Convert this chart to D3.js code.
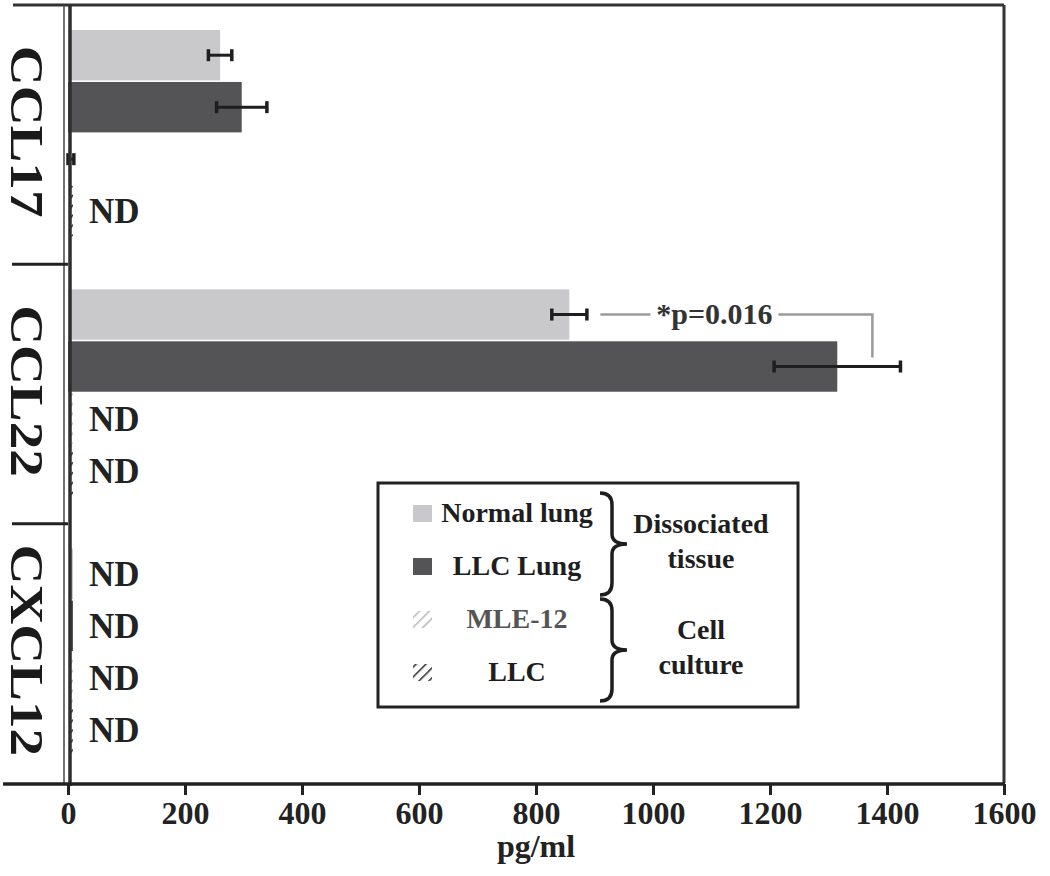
<!DOCTYPE html>
<html>
<head>
<meta charset="utf-8">
<script src="https://cdn.jsdelivr.net/npm/d3@7"></script>
<style>
  body { margin: 0; background: #fff; }
  text { font-family: "Liberation Serif", "Times New Roman", serif; font-weight: bold; }
</style>
</head>
<body>
<div class="chart"></div>
<script>
//Data
var groups = ["CCL17", "CCL22", "CXCL12"];
var seriesNames = ["Normal lung", "LLC Lung", "MLE-12", "LLC"];
var normalLung = [260, 857, null];
var llcLung = [297, 1315, null];
var mle12 = [5, null, null];
var llc = [null, null, null];
var normalLungErr = [20, 30, null];
var llcLungErr = [43, 108, null];
var mle12Err = [5, null, null];
var llcErr = [null, null, null];
var xTicks = [0, 200, 400, 600, 800, 1000, 1200, 1400, 1600];
var legendGroups = [["Dissociated", "tissue"], ["Cell", "culture"]];
var sigLabel = "*p=0.016";
var sigFrom = 910, sigTo = 1375, sigLabelAt = 1105;

var allValues = [normalLung, llcLung, mle12, llc];
var allErrors = [normalLungErr, llcLungErr, mle12Err, llcErr];

//Build rows for the bars
var rows = [];
groups.forEach(function(g, gi) {
    seriesNames.forEach(function(s, si) {
        rows.push({group: g, series: s, si: si, value: allValues[si][gi], err: allErrors[si][gi]});
    });
});

var svgWidth = 1050;
var svgHeight = 876;

var svg = d3.select(".chart")
    .append("svg")
    .attr("width", svgWidth)
    .attr("height", svgHeight);

//Scales
var xScale = d3.scaleLinear().domain([0, 1600]).range([68, 1004]);
var groupScale = d3.scaleBand().domain(groups).range([5, 783]);
var slotScale = d3.scaleBand().domain(seriesNames)
    .range([25, groupScale.bandwidth() - 28]).paddingInner(0.03);

function slotY(d) { return groupScale(d.group) + slotScale(d.series); }
function slotMid(d) { return slotY(d) + slotScale.bandwidth() / 2; }

//Fills
var defs = svg.append("defs");
function hatch(id, color) {
    var p = defs.append("pattern").attr("id", id)
        .attr("patternUnits", "userSpaceOnUse")
        .attr("width", 7).attr("height", 7)
        .attr("patternTransform", "rotate(45)");
    p.append("line").attr("x1", 0).attr("y1", 0).attr("x2", 0).attr("y2", 7)
        .attr("stroke", color).attr("stroke-width", 3);
}
hatch("hatchLight", "#b8b8b8");
hatch("hatchDark", "#2a2a2a");
var fills = ["#c9c9cb", "#545457", "url(#hatchLight)", "url(#hatchDark)"];

//Frame
svg.append("line").attr("x1", 13).attr("x2", 1004).attr("y1", 5).attr("y2", 5)
    .attr("stroke", "#333").attr("stroke-width", 3);
svg.append("line").attr("x1", 1004).attr("x2", 1004).attr("y1", 5).attr("y2", 783)
    .attr("stroke", "#333").attr("stroke-width", 3);

//Bars
svg.selectAll(".bar")
    .data(rows.filter(d => d.value != null))
    .enter()
    .append("rect")
    .attr("class", "bar")
    .attr("x", xScale(0))
    .attr("y", d => slotY(d))
    .attr("width", d => xScale(d.value) - xScale(0))
    .attr("height", slotScale.bandwidth())
    .attr("fill", d => fills[d.si]);

//Tiny marks at the axis for not detected cells
svg.selectAll(".ndmark")
    .data(rows.filter(d => d.value == null))
    .enter()
    .append("rect")
    .attr("x", xScale(0) + 1)
    .attr("y", d => slotY(d))
    .attr("width", 4)
    .attr("height", slotScale.bandwidth())
    .attr("fill", d => fills[d.si]);

//ND labels
svg.selectAll(".nd")
    .data(rows.filter(d => d.value == null))
    .enter()
    .append("text")
    .attr("x", xScale(0) + 21)
    .attr("y", d => slotMid(d))
    .attr("dy", "0.35em")
    .attr("font-size", "35px")
    .attr("fill", "#222")
    .text("ND");

//Error bars
var errRows = rows.filter(d => d.err != null);
var eb = svg.selectAll(".err").data(errRows).enter().append("g");
eb.append("line")
    .attr("x1", d => xScale(d.value - d.err))
    .attr("x2", d => xScale(d.value + d.err))
    .attr("y1", d => slotMid(d)).attr("y2", d => slotMid(d))
    .attr("stroke", "#1e1e1e").attr("stroke-width", 3);
[-1, 1].forEach(function(sgn) {
    eb.append("line")
        .attr("x1", d => xScale(d.value + sgn * d.err))
        .attr("x2", d => xScale(d.value + sgn * d.err))
        .attr("y1", d => slotMid(d) - 6).attr("y2", d => slotMid(d) + 6)
        .attr("stroke", "#1e1e1e").attr("stroke-width", 3.5);
});

//Significance bracket
var sigA = rows.find(d => d.group == "CCL22" && d.si == 0);
var sigB = rows.find(d => d.group == "CCL22" && d.si == 1);
svg.append("path")
    .attr("d", "M" + xScale(sigFrom) + "," + slotMid(sigA) +
        "H" + xScale(sigTo) + "V" + (slotMid(sigB) - 9))
    .attr("fill", "none").attr("stroke", "#9a9a9a").attr("stroke-width", 2.5);
var sigW = 128;
svg.append("rect")
    .attr("x", xScale(sigLabelAt) - sigW / 2).attr("y", slotMid(sigA) - 14)
    .attr("width", sigW).attr("height", 28).attr("fill", "#fff");
svg.append("text")
    .attr("x", xScale(sigLabelAt)).attr("y", slotMid(sigA))
    .attr("dy", "0.33em").attr("text-anchor", "middle")
    .attr("font-size", "30px").attr("fill", "#333")
    .text(sigLabel);

//Y axis: category bracket
svg.append("line").attr("x1", 64).attr("x2", 64).attr("y1", 5).attr("y2", 783)
    .attr("stroke", "#444").attr("stroke-width", 1.5);
svg.append("line").attr("x1", 70).attr("x2", 70).attr("y1", 5).attr("y2", 786)
    .attr("stroke", "#2e2e2e").attr("stroke-width", 3.5);
svg.selectAll(".sep")
    .data(groups.slice(1))
    .enter()
    .append("line")
    .attr("x1", 12).attr("x2", 68)
    .attr("y1", d => groupScale(d)).attr("y2", d => groupScale(d))
    .attr("stroke", "#222").attr("stroke-width", 3);
svg.selectAll(".glabel")
    .data(groups)
    .enter()
    .append("text")
    .attr("transform", d => "translate(11," + (groupScale(d) + groupScale.bandwidth() / 2 - 3) + ") rotate(90) scale(1.2,1)")
    .attr("text-anchor", "middle")
    .attr("font-size", "46px")
    .attr("fill", "#1a1a1a")
    .text(d => d);

//X axis
var bottomAxis = d3.axisBottom(xScale).tickValues(xTicks).tickFormat(d3.format("d"))
    .tickSize(11).tickPadding(6).tickSizeOuter(0);
var xg = svg.append("g").attr("transform", "translate(0,784)").call(bottomAxis);
xg.select(".domain").remove();
xg.selectAll(".tick line").attr("stroke", "#222").attr("stroke-width", 3);
xg.selectAll(".tick text")
    .attr("font-family", "Liberation Serif, Times New Roman, serif")
    .attr("font-weight", "bold")
    .attr("font-size", "32px")
    .attr("fill", "#222");
svg.append("line").attr("x1", 3).attr("x2", 1005).attr("y1", 784).attr("y2", 784)
    .attr("stroke", "#222").attr("stroke-width", 3.5);

svg.append("text")
    .attr("x", (xScale(0) + xScale(1600)) / 2).attr("y", 857)
    .attr("text-anchor", "middle")
    .attr("font-size", "32px").attr("fill", "#222")
    .text("pg/ml");

//Legend
var legend = svg.append("g");
legend.append("rect").attr("x", 378).attr("y", 483).attr("width", 420).attr("height", 224)
    .attr("fill", "#fff").attr("stroke", "#222").attr("stroke-width", 3);
var legendY = d3.scalePoint().domain(seriesNames).range([513, 672]);
legend.selectAll(".sw")
    .data(seriesNames)
    .enter()
    .append("rect")
    .attr("x", 413).attr("y", d => legendY(d) - 8)
    .attr("width", 19).attr("height", 17)
    .attr("fill", (d, i) => fills[i]);
legend.selectAll(".lt")
    .data(seriesNames)
    .enter()
    .append("text")
    .attr("x", 517).attr("y", d => legendY(d))
    .attr("dy", "0.33em").attr("text-anchor", "middle")
    .attr("font-size", "28px")
    .attr("fill", (d, i) => i == 2 ? "#555" : "#1e1e1e")
    .text(d => d);

//Braces joining the legend pairs
legendGroups.forEach(function(lines, k) {
    var a = legendY(seriesNames[k * 2]) - 20;
    var b = legendY(seriesNames[k * 2 + 1]) + 29;
    var m = (a + b) / 2;
    svg.append("path")
        .attr("d", "M600," + a + "Q612," + a + " 612," + (a + 12) + "V" + (m - 10) +
            "Q612," + m + " 627," + m + "Q612," + m + " 612," + (m + 10) +
            "V" + (b - 12) + "Q612," + b + " 600," + b)
        .attr("fill", "none").attr("stroke", "#1e1e1e").attr("stroke-width", 3.5);
    lines.forEach(function(t, j) {
        svg.append("text")
            .attr("x", 701).attr("y", m - 20 + j * 35)
            .attr("dy", "0.33em").attr("text-anchor", "middle")
            .attr("font-size", "28px").attr("fill", "#1e1e1e")
            .text(t);
    });
});
</script>
</body>
</html>
